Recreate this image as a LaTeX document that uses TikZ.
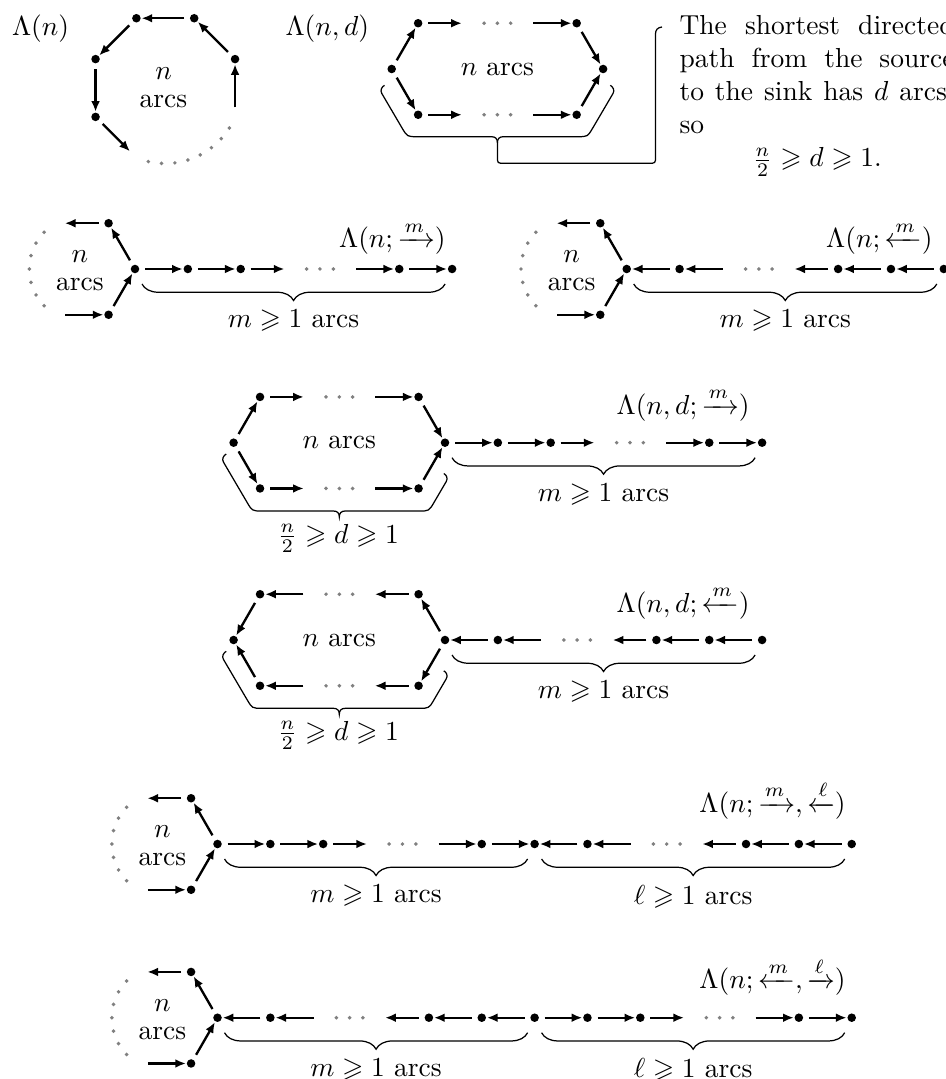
\documentclass[tikz,border=0pt]{standalone}
\usepackage{amsmath,amssymb}
\usetikzlibrary{arrows.meta,calc,decorations.pathreplacing}
\def\uu{52.85}
\def\gr{0.72pt}
\newcommand{\lefthex}[1]{%
 \node[dot] (#1c0) at (0,0) {};
 \node[dot] (#1top) at (-26.425,-45.77) {};
 \node[dot] (#1bot) at (-26.425,45.77) {};
 \coordinate (#1va) at (-79.275,-45.77);
 \coordinate (#1vb) at (-79.275,45.77);
 \draw[arr] (#1c0) -- (#1top);
 \draw[arr,ftip] (#1top) -- (#1va);
 \draw[arr,ftail] (#1vb) -- (#1bot);
 \draw[arr] (#1bot) -- (#1c0);
 \foreach \t in {0,...,6} \fill[gd] ({-52.85+52.85*cos(136+14.67*\t)},{-52.85*sin(136+14.67*\t)}) circle (\gr);
 \node[lab,align=center] (#1lab) at (-55,2) {$n$\\[-1.7pt]arcs};
}
\newcommand{\rchain}[3]{%
 \node[dot] (#11) at ({#3+\uu},0) {};
 \node[dot] (#12) at ({#3+2*\uu},0) {};
 \coordinate (#13) at ({#3+3*\uu},0);
 \coordinate (#14) at ({#3+4*\uu},0);
 \node[dot] (#15) at ({#3+5*\uu},0) {};
 \node[dot] (#16) at ({#3+6*\uu},0) {};
 \draw[arr] (#2) -- (#11);
 \draw[arr] (#11) -- (#12);
 \draw[arr,ftip] (#12) -- (#13);
 \draw[arr,ftail] (#14) -- (#15);
 \draw[arr] (#15) -- (#16);
 \foreach \s in {-13.3,0,13.3} \fill[gd] ({#3+3.5*\uu+\s},0) circle (\gr);
}
\newcommand{\lchain}[3]{%
 \node[dot] (#11) at ({#3+\uu},0) {};
 \coordinate (#12) at ({#3+2*\uu},0);
 \coordinate (#13) at ({#3+3*\uu},0);
 \node[dot] (#14) at ({#3+4*\uu},0) {};
 \node[dot] (#15) at ({#3+5*\uu},0) {};
 \node[dot] (#16) at ({#3+6*\uu},0) {};
 \draw[arr] (#11) -- (#2);
 \draw[arr,ftail] (#12) -- (#11);
 \draw[arr,ftip] (#14) -- (#13);
 \draw[arr] (#15) -- (#14);
 \draw[arr] (#16) -- (#15);
 \foreach \s in {-13.3,0,13.3} \fill[gd] ({#3+2.5*\uu+\s},0) circle (\gr);
}
\newcommand{\chainbrace}[3]{%
 \draw[brc,decorate,decoration={brace,mirror,amplitude=6pt}] ({#2+7},15) -- ({#2+6*\uu-7},15);
 \node[lab,anchor=north] (#1) at ({#2+3*\uu},40.5) {#3};
}
\newcommand{\rhex}[1]{%
 \node[dot] (#1L) at ({-4*\uu},0) {};
 \node[dot] (#1TL) at ({-3.5*\uu},-45.77) {};
 \node[dot] (#1TR) at ({-0.5*\uu},-45.77) {};
 \node[dot] (#1BL) at ({-3.5*\uu},45.77) {};
 \node[dot] (#1BR) at ({-0.5*\uu},45.77) {};
 \coordinate (#1T1) at ({-2.5*\uu},-45.77);
 \coordinate (#1T2) at ({-1.5*\uu},-45.77);
 \coordinate (#1B1) at ({-2.5*\uu},45.77);
 \coordinate (#1B2) at ({-1.5*\uu},45.77);
 \draw[arr] (#1L) -- (#1TL);
 \draw[arr,ftip] (#1TL) -- (#1T1);
 \draw[arr,ftail] (#1T2) -- (#1TR);
 \draw[arr] (#1TR) -- (#1c0);
 \draw[arr] (#1L) -- (#1BL);
 \draw[arr,ftip] (#1BL) -- (#1B1);
 \draw[arr,ftail] (#1B2) -- (#1BR);
 \draw[arr] (#1BR) -- (#1c0);
 \foreach \s in {-13.3,0,13.3} {\fill[gd] ({-2*\uu+\s},-45.77) circle (\gr); \fill[gd] ({-2*\uu+\s},45.77) circle (\gr);}
 \node[lab] (#1nl) at ({-2*\uu},0) {$n$ arcs};
}
\newcommand{\lhex}[1]{%
 \node[dot] (#1L) at ({-4*\uu},0) {};
 \node[dot] (#1TL) at ({-3.5*\uu},-45.77) {};
 \node[dot] (#1TR) at ({-0.5*\uu},-45.77) {};
 \node[dot] (#1BL) at ({-3.5*\uu},45.77) {};
 \node[dot] (#1BR) at ({-0.5*\uu},45.77) {};
 \coordinate (#1T1) at ({-2.5*\uu},-45.77);
 \coordinate (#1T2) at ({-1.5*\uu},-45.77);
 \coordinate (#1B1) at ({-2.5*\uu},45.77);
 \coordinate (#1B2) at ({-1.5*\uu},45.77);
 \draw[arr] (#1TL) -- (#1L);
 \draw[arr,ftail] (#1T1) -- (#1TL);
 \draw[arr,ftip] (#1TR) -- (#1T2);
 \draw[arr] (#1c0) -- (#1TR);
 \draw[arr] (#1BL) -- (#1L);
 \draw[arr,ftail] (#1B1) -- (#1BL);
 \draw[arr,ftip] (#1BR) -- (#1B2);
 \draw[arr] (#1c0) -- (#1BR);
 \foreach \s in {-13.3,0,13.3} {\fill[gd] ({-2*\uu+\s},-45.77) circle (\gr); \fill[gd] ({-2*\uu+\s},45.77) circle (\gr);}
 \node[lab] (#1nl) at ({-2*\uu},0) {$n$ arcs};
}
\newcommand{\dbrace}[1]{%
 \draw[brc] (-218.8,11.3) .. controls (-221.6,12.9) and (-223.4,16.4) .. (-221.5,19.5) -- (-197.9,59.7) .. controls (-192.8,68.3) .. (-182.8,68.3) -- (-111.7,68.3) .. controls (-107.7,68.3) and (-105.7,70.3) .. (-105.7,74.3) .. controls (-105.7,70.3) and (-103.7,68.3) .. (-99.7,68.3) -- (-26,68.3) .. controls (-16,68.3) .. (-10.95,59.67) -- (1.2,38.9) .. controls (3.1,35.6) and (1.6,32.4) .. (-1.2,30.8);
 \node[lab] (#1) at (-107,95.6) {$\frac{n}{2}\geqslant d\geqslant 1$};
}
\begin{document}
\begin{tikzpicture}[x=0.363636pt,y=-0.363636pt,
  dot/.style={circle,fill=black,inner sep=0pt,outer sep=0pt,minimum size=3.1pt},
  arr/.style={line width=0.85pt,-{Latex[length=3.9pt,width=3.2pt]},shorten <=2.1pt,shorten >=0.3pt},
  ftip/.style={shorten >=3.3pt},
  ftail/.style={shorten <=3.5pt},
  gd/.style={fill=gray},
  brc/.style={line width=0.45pt},
  lab/.style={inner sep=0pt}]
\useasboundingbox (0,0) rectangle (945,1079);

% ---------- Lambda(n): octagon
\node[lab,anchor=base west] (l1) at (11.5,36) {$\Lambda(n)$};
\node[dot] (a1) at (136.4,18.25) {};
\node[dot] (a2) at (194.2,18.25) {};
\node[dot] (a3) at (235.05,59.1) {};
\node[dot] (a4) at (95.55,59.1) {};
\node[dot] (a5) at (95.55,116.9) {};
\coordinate (af1) at (136.4,157.75);
\coordinate (af2) at (235.05,116.9);
\draw[arr] (a2) -- (a1);
\draw[arr] (a1) -- (a4);
\draw[arr] (a4) -- (a5);
\draw[arr,ftip] (a5) -- (af1);
\draw[arr,ftail] (af2) -- (a3);
\draw[arr] (a3) -- (a2);
\foreach \t in {0,...,7} \fill[gd] ({165.3+75.5*cos(257+10.14*\t)},{88-75.5*sin(257+10.14*\t)}) circle (\gr);
\node[lab,align=center] (t1) at (163.5,87.5) {$n$\\[-1.7pt]arcs};

% ---------- Lambda(n,d)
\node[lab,anchor=base west] (l2) at (285,36) {$\Lambda(n,d)$};
\begin{scope}[shift={(603.1,69)}]
\node[dot] (bc0) at (0,0) {};
\rhex{b}
\end{scope}
\draw[brc] (384.5,85.3) .. controls (381.7,86.9) and (379.9,90.4) .. (381.8,93.5) -- (402.1,128.1) .. controls (407.2,136.7) .. (417.2,136.7) -- (491.4,136.7) .. controls (495.4,136.7) and (497.4,138.7) .. (497.4,142.7) -- (497.4,156.3) .. controls (497.4,163.3) .. (504.4,163.3) -- (648.5,163.3) .. controls (655.5,163.3) .. (655.5,156.3) -- (655.5,34) .. controls (655.5,30) and (657.5,27.5) .. (662,27);
\draw[brc] (497.4,142.7) .. controls (497.4,138.7) and (499.4,136.7) .. (503.4,136.7) -- (577.6,136.7) .. controls (587.6,136.7) .. (592.7,128.1) -- (613,93.5) .. controls (614.9,90.4) and (613.1,86.9) .. (610.3,85.3);
\node[lab,anchor=base west] (txt) at (679,35) {\parbox[t]{100pt}{The shortest directed\linebreak path from the source\linebreak to the sink has $d$ arcs,\linebreak so\par{\centering$\frac{n}{2}\geqslant d\geqslant 1.$\par}}};

% ---------- Lambda(n; ->m)
\begin{scope}[shift={(135,269)}]
\lefthex{c}
\rchain{c}{cc0}{0}
\chainbrace{cm}{0}{$m\geqslant 1$ arcs}
\node[lab,anchor=base east] (cl) at (311,-21) {$\Lambda(n;\xrightarrow{m})$};
\end{scope}

% ---------- Lambda(n; <-m)
\begin{scope}[shift={(626.7,269)}]
\lefthex{d}
\lchain{d}{dc0}{0}
\chainbrace{dm}{0}{$m\geqslant 1$ arcs}
\node[lab,anchor=base east] (dl) at (306.3,-21) {$\Lambda(n;\xleftarrow{m})$};
\end{scope}

% ---------- Lambda(n,d; ->m)
\begin{scope}[shift={(445,442.7)}]
\node[dot] (ec0) at (0,0) {};
\rhex{e}
\rchain{e}{ec0}{0}
\chainbrace{em}{0}{$m\geqslant 1$ arcs}
\dbrace{ed}
\node[lab,anchor=base east] (el) at (305,-28.3) {$\Lambda(n,d;\xrightarrow{m})$};
\end{scope}

% ---------- Lambda(n,d; <-m)
\begin{scope}[shift={(445,640)}]
\node[dot] (fc0) at (0,0) {};
\lhex{f}
\lchain{f}{fc0}{0}
\chainbrace{fm}{0}{$m\geqslant 1$ arcs}
\dbrace{fd}
\node[lab,anchor=base east] (fl) at (305,-28) {$\Lambda(n,d;\xleftarrow{m})$};
\end{scope}

% ---------- Lambda(n; ->m, <-l)
\begin{scope}[shift={(217.5,844)}]
\lefthex{g}
\rchain{g}{gc0}{0}
\lchain{gg}{g6}{6*\uu}
\chainbrace{gm}{0}{$m\geqslant 1$ arcs}
\chainbrace{gl}{6*\uu}{$\ell\geqslant 1$ arcs}
\node[lab,anchor=base east] (gla) at (628.5,-32) {$\Lambda(n;\xrightarrow{m},\xleftarrow{\ell})$};
\end{scope}

% ---------- Lambda(n; <-m, ->l)
\begin{scope}[shift={(217.5,1017.7)}]
\lefthex{h}
\lchain{h}{hc0}{0}
\rchain{hh}{h6}{6*\uu}
\chainbrace{hm}{0}{$m\geqslant 1$ arcs}
\chainbrace{hl}{6*\uu}{$\ell\geqslant 1$ arcs}
\node[lab,anchor=base east] (hla) at (628.5,-29) {$\Lambda(n;\xleftarrow{m},\xrightarrow{\ell})$};
\end{scope}
\end{tikzpicture}
\end{document}
